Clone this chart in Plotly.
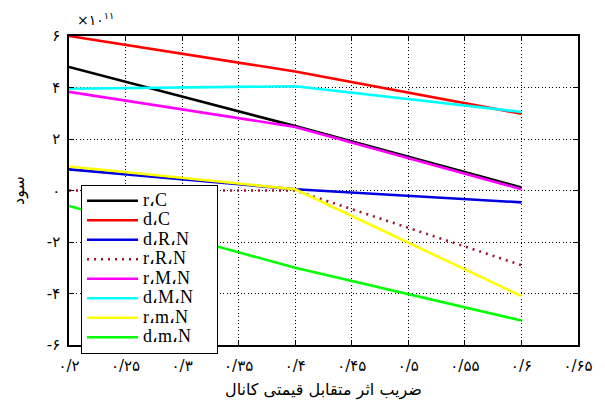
import plotly.graph_objects as go

x_vals = [0.2, 0.4, 0.6]
names = ["r،C", "d،C", "d،R،N", "r،R،N", "r،M،N", "d،M،N", "r،m،N", "d،m،N"]
r_C = [4.8, 2.5, 0.12]
d_C = [6.0, 4.62, 2.98]
d_R_N = [0.82, 0.05, -0.46]
r_R_N = [0.0, 0.0, -2.9]
r_M_N = [3.83, 2.47, 0.05]
d_M_N = [3.95, 4.05, 3.05]
r_m_N = [0.93, 0.05, -4.1]
d_m_N = [-0.6, -3.0, -5.05]
series = [r_C, d_C, d_R_N, r_R_N, r_M_N, d_M_N, r_m_N, d_m_N]
colors = ["#000000", "#ff0000", "#0000e0", "#a0142c", "#ff00ff", "#00ffff", "#ffff00", "#00ff00"]
dashes = ["solid", "solid", "solid", "2px,5px", "solid", "solid", "solid", "solid"]

x_ticks = [0.2, 0.25, 0.3, 0.35, 0.4, 0.45, 0.5, 0.55, 0.6, 0.65]
x_ticktext = ["۰/۲", "۰/۲۵", "۰/۳", "۰/۳۵", "۰/۴", "۰/۴۵", "۰/۵", "۰/۵۵", "۰/۶", "۰/۶۵"]
y_ticks = [-6, -4, -2, 0, 2, 4, 6]
y_ticktext = ["-۶", "-۴", "-۲", "۰", "۲", "۴", "۶"]

fig = go.Figure()
for name, vals, c, d in zip(names, series, colors, dashes):
    label = '<span style="font-size:18px">' + name + '&nbsp;&nbsp;&nbsp;&nbsp;</span>'
    fig.add_trace(go.Scatter(x=x_vals, y=vals, name=label, mode="lines",
                             line=dict(color=c, width=2.6, dash=d)))

axis_common = dict(showline=True, linecolor="black", linewidth=1.5, mirror="ticks",
                   ticks="inside", ticklen=5, tickcolor="black", tickwidth=1,
                   showgrid=True, gridcolor="black", griddash="1px,2.5px", gridwidth=1,
                   zeroline=False, automargin=False,
                   tickfont=dict(family="DejaVu Sans", size=15, color="black"))

fig.update_xaxes(range=[0.2, 0.65], tickvals=x_ticks, ticktext=x_ticktext,
                 ticklabelstandoff=6,
                 title=dict(text="ضریب اثر متقابل قیمتی کانال",
                            font=dict(family="DejaVu Sans", size=16, color="black"),
                            standoff=10),
                 **axis_common)
fig.update_yaxes(range=[-6, 6], tickvals=y_ticks, ticktext=y_ticktext,
                 ticklabelstandoff=4,
                 title=dict(text="سود", font=dict(family="DejaVu Sans", size=16, color="black"),
                            standoff=18),
                 **axis_common)

fig.add_annotation(xref="paper", yref="paper", x=0.0, y=1.0, xanchor="left", yanchor="bottom",
                   xshift=6, yshift=6, showarrow=False,
                   text="×۱۰<sup>۱۱</sup>", font=dict(family="DejaVu Sans", size=14, color="black"))

# page body has an 8px default margin, so the figure is sized to fit the 605x406 window
fig.update_layout(
    width=597, height=398,
    margin=dict(l=61, r=27, t=28, b=61, autoexpand=False),
    paper_bgcolor="white", plot_bgcolor="white",
    showlegend=True,
    legend=dict(x=0.0236, y=0.518, xanchor="left", yanchor="top",
                bgcolor="white", bordercolor="black", borderwidth=1,
                font=dict(family="Liberation Serif", size=12.7, color="black"),
                itemwidth=51, tracegroupgap=0),
)

fig.write_html("out.html")
